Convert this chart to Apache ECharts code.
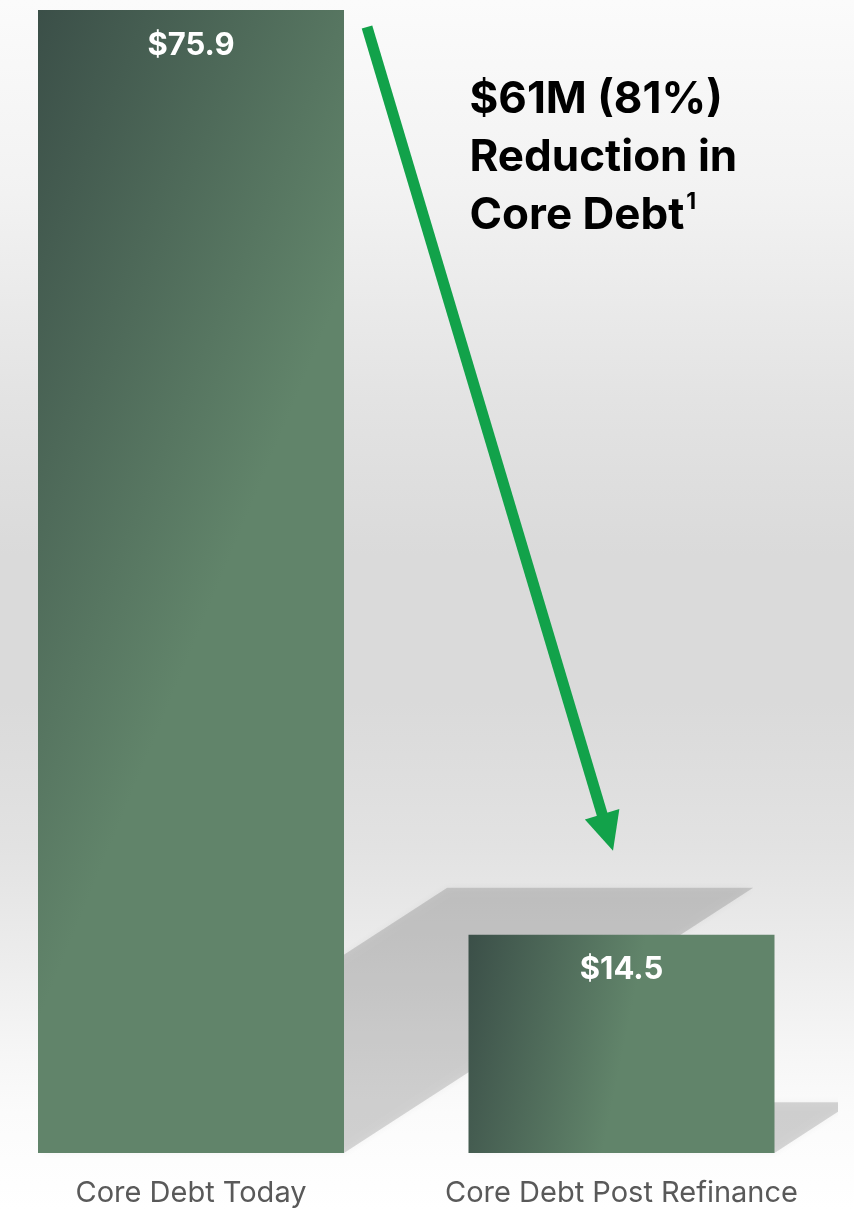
<!DOCTYPE html>
<html>
<head>
<meta charset="utf-8">
<script src="https://cdn.jsdelivr.net/npm/echarts@6/dist/echarts.min.js"></script>
<style>
  html, body { margin: 0; padding: 0; }
  #chart {
    width: 854px; height: 1209px;
    background: linear-gradient(to bottom, #fbfbfb 0%, #f2f2f2 16%, #e3e3e3 33%, #dadada 46%, #dadada 58%, #e2e2e2 70%, #ececec 79%, #f6f6f6 87%, #fbfbfb 92%, #ffffff 100%);
  }
</style>
</head>
<body>
<div id="chart"></div>
<script>
// ---- data ----
const categories = ['Core Debt Today', 'Core Debt Post Refinance'];
const debtValues = [75.9, 14.5];
const valueLabels = ['$75.9', '$14.5'];
const calloutLines = ['$61M (81%)', 'Reduction in', 'Core Debt'];
const calloutFootnote = '1';

// ---- styles ----
const BAR_W = 306;
const GREEN_DARK = '#3b4f48';
const GREEN_LIGHT = '#61846a';
const barGradients = [
  { x2: 1.17, y2: 0.13 },
  { x2: 0.56, y2: 0.16 }
];
const SHADOW_DX = 0.358, SHADOW_DY = -0.232;
const FONT = 'Inter, "Noto Sans", sans-serif';

const chart = echarts.init(document.getElementById('chart'), null, { renderer: 'canvas' });

const barData = debtValues.map((v, i) => ({
  value: v,
  itemStyle: {
    color: {
      type: 'linear', x: 0, y: 0, x2: barGradients[i].x2, y2: barGradients[i].y2,
      colorStops: [{ offset: 0, color: GREEN_DARK }, { offset: 1, color: GREEN_LIGHT }]
    }
  }
}));

const shadowData = debtValues.map((v, i) => [i, v]);

const option = {
  backgroundColor: 'transparent',
  animation: false,
  grid: { left: 191, right: 232.5, top: 10, bottom: 56 },
  xAxis: {
    type: 'category',
    data: categories,
    boundaryGap: false,
    axisLine: { show: false },
    axisTick: { show: false },
    splitLine: { show: false },
    axisLabel: {
      margin: 26,
      color: '#595959',
      fontSize: 29,
      fontFamily: FONT,
      interval: 0
    }
  },
  yAxis: { type: 'value', min: 0, max: 75.9, show: false, splitLine: { show: false } },
  series: [
    {
      type: 'custom',
      z: 1,
      clip: false,
      data: shadowData,
      renderItem: function (params, api) {
        const cat = api.value(0), v = api.value(1);
        const base = api.coord([cat, 0]);
        const top = api.coord([cat, v]);
        const h = base[1] - top[1];
        const dx = h * SHADOW_DX, dy = h * SHADOW_DY;
        const l = base[0] - BAR_W / 2, r = base[0] + BAR_W / 2, b = base[1];
        return {
          type: 'polygon',
          shape: { points: [[l, b], [r, b], [r + dx, b + dy], [l + dx, b + dy]] },
          clipPath: { type: 'rect', shape: { x: 0, y: 0, width: 838, height: 1209 } },
          style: {
            fill: 'rgba(0,0,0,0.14)',
            shadowBlur: 7,
            shadowColor: 'rgba(0,0,0,0.3)'
          }
        };
      }
    },
    {
      type: 'bar',
      z: 2,
      barWidth: BAR_W,
      data: barData,
      label: {
        show: true,
        position: 'insideTop',
        distance: 20,
        color: '#ffffff',
        fontSize: 31,
        fontWeight: 'bold',
        fontFamily: FONT,
        formatter: (p) => valueLabels[p.dataIndex]
      }
    }
  ]
};

chart.setOption(option);

// ---- annotation arrow and callout, anchored to the bars ----
const p0 = chart.convertToPixel({ xAxisIndex: 0, yAxisIndex: 0 }, [0, debtValues[0]]);
const p1 = chart.convertToPixel({ xAxisIndex: 0, yAxisIndex: 0 }, [1, debtValues[1]]);
const start = [p0[0] + BAR_W / 2 + 23, p0[1] + 17];
const tip = [p1[0] - 8.5, p1[1] - 84];
const ddx = tip[0] - start[0], ddy = tip[1] - start[1];
const len = Math.sqrt(ddx * ddx + ddy * ddy);
const ux = ddx / len, uy = ddy / len;
const HEAD_L = 38, HEAD_HW = 18;
const hb = [tip[0] - ux * HEAD_L, tip[1] - uy * HEAD_L];
const nx = -uy, ny = ux;
const ARROW = '#12a24a';

chart.setOption({
  graphic: [
    {
      type: 'line', z: 10,
      shape: { x1: start[0], y1: start[1], x2: hb[0] + ux * 2, y2: hb[1] + uy * 2 },
      style: { stroke: ARROW, lineWidth: 11, lineCap: 'butt' }
    },
    {
      type: 'polygon', z: 10,
      shape: { points: [tip, [hb[0] + nx * HEAD_HW, hb[1] + ny * HEAD_HW], [hb[0] - nx * HEAD_HW, hb[1] - ny * HEAD_HW]] },
      style: { fill: ARROW }
    },
    {
      type: 'text', z: 10,
      x: p1[0] - BAR_W / 2 + 1,
      y: 71,
      style: {
        text: '{b|' + calloutLines[0] + '}\n{b|' + calloutLines[1] + '}\n{b|' + calloutLines[2] + '}{s|' + calloutFootnote + '}',
        rich: {
          b: { fontSize: 44, fontWeight: 'bold', fill: '#000000', lineHeight: 58, fontFamily: FONT },
          s: { fontSize: 23, fontWeight: 'bold', fill: '#000000', lineHeight: 58, verticalAlign: 'top', padding: [4, 0, 0, 2], fontFamily: FONT }
        }
      }
    }
  ]
});
</script>
</body>
</html>
